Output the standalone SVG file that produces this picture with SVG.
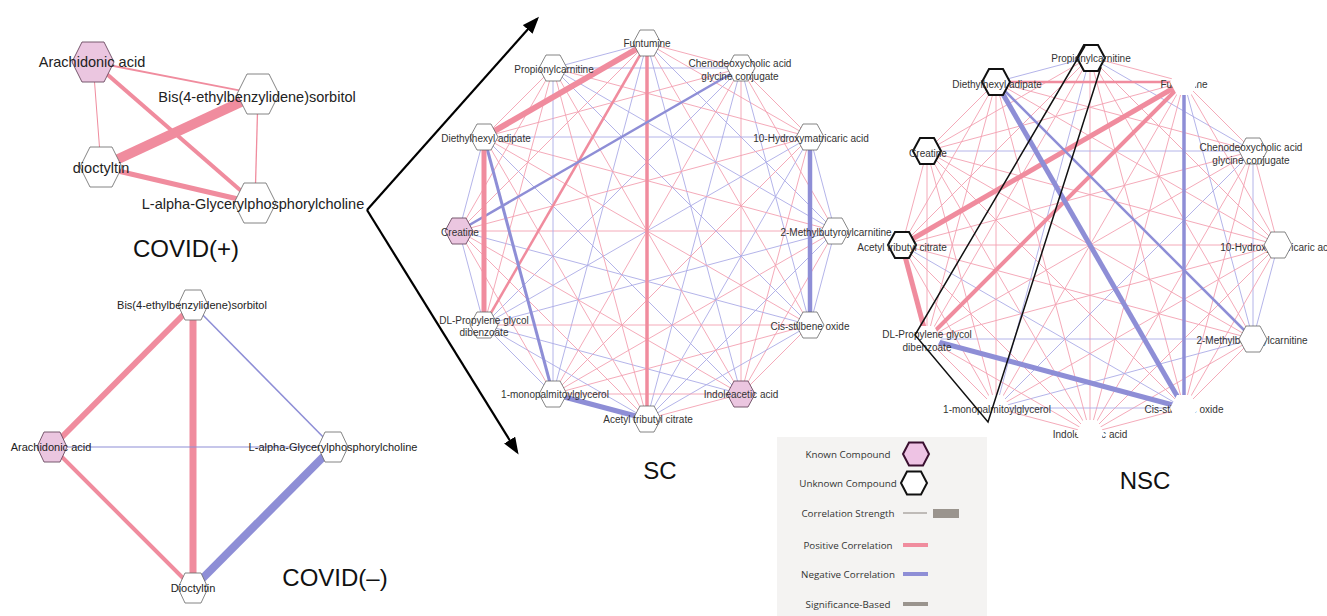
<svg xmlns="http://www.w3.org/2000/svg" xmlns:xlink="http://www.w3.org/1999/xlink" width="1327" height="616" viewBox="0 0 1327 616">
<style>
text{font-family:"Liberation Sans",Arial,sans-serif;text-anchor:middle;fill:#222}
.s{font-size:10px;fill:#333}
.c1{font-size:14.5px}
.c2{font-size:11px}
.ttl{font-size:24px;fill:#111}
.lg{font-family:"Open Sans","Liberation Sans",sans-serif;font-size:9.8px;fill:#333}
.tp{stroke:#F3A0B1;stroke-width:0.9}
.tb{stroke:#ABABE6;stroke-width:0.9}
.ep{stroke:#F08C9E;fill:none}
.eb{stroke:#8E8ED6;fill:none}
.n{fill:#fff;stroke:#666;stroke-width:0.8}
.k{fill:#EBC6E0;stroke:#6a4a60;stroke-width:0.9}
.nb{fill:#fff;stroke:#111;stroke-width:2}
.nw{fill:#fff;stroke:none}
.ar{stroke:#000;stroke-width:2.2;fill:none}
</style>
<defs>
<polygon id="hS" points="-14,0 -7,-13 7,-13 14,0 7,13 -7,13"/>
<polygon id="hL" points="-21,0 -11,-20 11,-20 21,0 11,20 -11,20"/>
<polygon id="hM" points="-15,0 -8,-15 8,-15 15,0 8,15 -8,15"/>
<polygon id="hG" points="-13,0 -7,-11.5 7,-11.5 13,0 7,11.5 -7,11.5"/>
<marker id="ah" markerWidth="18" markerHeight="14" refX="14" refY="6.5" orient="auto" markerUnits="userSpaceOnUse">
<path d="M0,0 L17,6.5 L0,13 Z" fill="#000"/>
</marker>
</defs>
<rect width="1327" height="616" fill="#fff"/>

<!-- COVID(+) -->
<g id="covidpos-edges">
<line x1="93" y1="62" x2="258" y2="94" class="ep" stroke-width="1.8"/>
<line x1="93" y1="62" x2="101" y2="167" class="ep" stroke-width="1"/>
<line x1="93" y1="62" x2="255" y2="203" class="ep" stroke-width="4"/>
<line x1="258" y1="94" x2="101" y2="167" class="ep" stroke-width="10"/>
<line x1="258" y1="94" x2="255" y2="203" class="ep" stroke-width="1.3"/>
<line x1="101" y1="167" x2="255" y2="203" class="ep" stroke-width="5"/>
</g>
<g id="cp-arachidonic"><use href="#hL" x="93" y="62" class="k"/><text class="c1" x="92" y="67">Arachidonic acid</text></g>
<g id="cp-bis"><use href="#hL" x="258" y="94" class="n"/><text class="c1" x="257" y="102">Bis(4-ethylbenzylidene)sorbitol</text></g>
<g id="cp-dioctyltin"><use href="#hL" x="101" y="167" class="n"/><text class="c1" x="101" y="173">dioctyltin</text></g>
<g id="cp-lalpha"><use href="#hL" x="255" y="203" class="n"/><text class="c1" x="253" y="209">L-alpha-Glycerylphosphorylcholine</text></g>
<text class="ttl" x="186" y="257">COVID(+)</text>

<!-- COVID(-) -->
<g id="covidneg-edges">
<line x1="193" y1="305" x2="52" y2="447" class="ep" stroke-width="6"/>
<line x1="193" y1="305" x2="193" y2="588" class="ep" stroke-width="7"/>
<line x1="193" y1="305" x2="333" y2="447" class="eb" stroke-width="1.5"/>
<line x1="52" y1="447" x2="333" y2="447" class="eb" stroke-width="1.2"/>
<line x1="52" y1="447" x2="193" y2="588" class="ep" stroke-width="4"/>
<line x1="333" y1="447" x2="193" y2="588" class="eb" stroke-width="8"/>
</g>
<g id="cn-bis"><use href="#hM" x="193" y="305" class="n"/><text class="c2" x="192" y="309">Bis(4-ethylbenzylidene)sorbitol</text></g>
<g id="cn-arachidonic"><use href="#hM" x="52" y="447" class="k"/><text class="c2" x="51" y="451">Arachidonic acid</text></g>
<g id="cn-lalpha"><use href="#hM" x="333" y="447" class="n"/><text class="c2" x="333" y="451">L-alpha-Glycerylphosphorylcholine</text></g>
<g id="cn-dioctyltin"><use href="#hM" x="193" y="588" class="n"/><text class="c2" x="193" y="592">Dioctyltin</text></g>
<text class="ttl" x="335" y="586">COVID(–)</text>

<!-- arrows -->
<g id="arrows">
<line x1="367" y1="210" x2="537" y2="19" class="ar" marker-end="url(#ah)"/>
<line x1="367" y1="210" x2="517" y2="452" class="ar" marker-end="url(#ah)"/>
</g>

<!-- SC network -->
<g id="sc-edges">
<line x1="647" y1="43" x2="741" y2="68" class="tp"/>
<line x1="647" y1="43" x2="810" y2="137" class="tp"/>
<line x1="647" y1="43" x2="835" y2="231" class="tb"/>
<line x1="647" y1="43" x2="810" y2="325" class="tp"/>
<line x1="647" y1="43" x2="741" y2="394" class="tb"/>
<line x1="647" y1="43" x2="553" y2="394" class="tb"/>
<line x1="647" y1="43" x2="459" y2="231" class="tp"/>
<line x1="647" y1="43" x2="553" y2="68" class="tb"/>
<line x1="741" y1="68" x2="810" y2="137" class="tp"/>
<line x1="741" y1="68" x2="835" y2="231" class="tp"/>
<line x1="741" y1="68" x2="810" y2="325" class="tb"/>
<line x1="741" y1="68" x2="741" y2="394" class="tp"/>
<line x1="741" y1="68" x2="647" y2="419" class="tb"/>
<line x1="741" y1="68" x2="553" y2="394" class="tp"/>
<line x1="741" y1="68" x2="484" y2="325" class="tb"/>
<line x1="741" y1="68" x2="484" y2="137" class="tp"/>
<line x1="741" y1="68" x2="553" y2="68" class="tb"/>
<line x1="810" y1="137" x2="835" y2="231" class="tb"/>
<line x1="810" y1="137" x2="741" y2="394" class="tp"/>
<line x1="810" y1="137" x2="647" y2="419" class="tb"/>
<line x1="810" y1="137" x2="553" y2="394" class="tp"/>
<line x1="810" y1="137" x2="484" y2="325" class="tb"/>
<line x1="810" y1="137" x2="459" y2="231" class="tp"/>
<line x1="810" y1="137" x2="484" y2="137" class="tb"/>
<line x1="810" y1="137" x2="553" y2="68" class="tp"/>
<line x1="835" y1="231" x2="810" y2="325" class="tb"/>
<line x1="835" y1="231" x2="741" y2="394" class="tp"/>
<line x1="835" y1="231" x2="647" y2="419" class="tb"/>
<line x1="835" y1="231" x2="553" y2="394" class="tp"/>
<line x1="835" y1="231" x2="484" y2="325" class="tb"/>
<line x1="835" y1="231" x2="459" y2="231" class="tp"/>
<line x1="835" y1="231" x2="484" y2="137" class="tp"/>
<line x1="835" y1="231" x2="553" y2="68" class="tb"/>
<line x1="810" y1="325" x2="741" y2="394" class="tp"/>
<line x1="810" y1="325" x2="647" y2="419" class="tb"/>
<line x1="810" y1="325" x2="553" y2="394" class="tp"/>
<line x1="810" y1="325" x2="484" y2="325" class="tp"/>
<line x1="810" y1="325" x2="459" y2="231" class="tb"/>
<line x1="810" y1="325" x2="484" y2="137" class="tp"/>
<line x1="810" y1="325" x2="553" y2="68" class="tb"/>
<line x1="741" y1="394" x2="647" y2="419" class="tp"/>
<line x1="741" y1="394" x2="553" y2="394" class="tp"/>
<line x1="741" y1="394" x2="484" y2="325" class="tb"/>
<line x1="741" y1="394" x2="459" y2="231" class="tp"/>
<line x1="741" y1="394" x2="484" y2="137" class="tb"/>
<line x1="741" y1="394" x2="553" y2="68" class="tp"/>
<line x1="647" y1="419" x2="484" y2="325" class="tb"/>
<line x1="647" y1="419" x2="459" y2="231" class="tp"/>
<line x1="647" y1="419" x2="484" y2="137" class="tp"/>
<line x1="647" y1="419" x2="553" y2="68" class="tp"/>
<line x1="553" y1="394" x2="484" y2="325" class="tb"/>
<line x1="553" y1="394" x2="459" y2="231" class="tp"/>
<line x1="553" y1="394" x2="553" y2="68" class="tb"/>
<line x1="484" y1="325" x2="459" y2="231" class="tb"/>
<line x1="484" y1="325" x2="553" y2="68" class="tp"/>
<line x1="459" y1="231" x2="484" y2="137" class="tb"/>
<line x1="459" y1="231" x2="553" y2="68" class="tp"/>
<line x1="484" y1="137" x2="553" y2="68" class="tp"/>
<line x1="647" y1="43" x2="647" y2="419" class="ep" stroke-width="3.5"/>
<line x1="647" y1="43" x2="484" y2="325" class="ep" stroke-width="2.5"/>
<line x1="647" y1="43" x2="484" y2="137" class="ep" stroke-width="6"/>
<line x1="741" y1="68" x2="459" y2="231" class="eb" stroke-width="2.5"/>
<line x1="810" y1="137" x2="810" y2="325" class="eb" stroke-width="4.5"/>
<line x1="647" y1="419" x2="553" y2="394" class="eb" stroke-width="5"/>
<line x1="553" y1="394" x2="484" y2="137" class="eb" stroke-width="3"/>
<line x1="484" y1="325" x2="484" y2="137" class="ep" stroke-width="5"/>
</g>
<g id="sc-funtumine"><use href="#hS" x="647" y="43" class="n"/><text class="s" x="647" y="46.5">Funtumine</text></g>
<g id="sc-propionylcarnitine"><use href="#hS" x="553" y="68" class="n"/><text class="s" x="554" y="72.5">Propionylcarnitine</text></g>
<g id="sc-chenodeoxycholic"><use href="#hS" x="741" y="68" class="n"/><text class="s" x="740" y="66.5">Chenodeoxycholic acid</text><text class="s" x="740" y="79.5">glycine conjugate</text></g>
<g id="sc-diethylhexyl"><use href="#hS" x="484" y="137" class="n"/><text class="s" x="486" y="141.5">Diethylhexyl adipate</text></g>
<g id="sc-hydroxymatricaric"><use href="#hS" x="810" y="137" class="n"/><text class="s" x="811" y="141.5">10-Hydroxymatricaric acid</text></g>
<g id="sc-creatine"><use href="#hS" x="459" y="231" class="k"/><text class="s" x="460" y="235.5">Creatine</text></g>
<g id="sc-methylbutyroyl"><use href="#hS" x="835" y="231" class="n"/><text class="s" x="836" y="235.5">2-Methylbutyroylcarnitine</text></g>
<g id="sc-dlpropylene"><use href="#hS" x="484" y="325" class="n"/><text class="s" x="484" y="323.5">DL-Propylene glycol</text><text class="s" x="484" y="335.5">dibenzoate</text></g>
<g id="sc-cisstilbene"><use href="#hS" x="810" y="325" class="n"/><text class="s" x="810" y="329.5">Cis-stilbene oxide</text></g>
<g id="sc-monopalmitoyl"><use href="#hS" x="553" y="394" class="n"/><text class="s" x="555" y="397.5">1-monopalmitoylglycerol</text></g>
<g id="sc-indoleacetic"><use href="#hS" x="741" y="394" class="k"/><text class="s" x="741" y="397.5">Indoleacetic acid</text></g>
<g id="sc-acetyl"><use href="#hS" x="647" y="419" class="n"/><text class="s" x="648" y="422.5">Acetyl tributyl citrate</text></g>
<text class="ttl" x="660" y="479">SC</text>

<!-- NSC network -->
<g id="nsc-edges">
<line x1="1090" y1="57" x2="1184" y2="82" class="tp"/>
<line x1="1090" y1="57" x2="1253" y2="151" class="tb"/>
<line x1="1090" y1="57" x2="1278" y2="245" class="tp"/>
<line x1="1090" y1="57" x2="1253" y2="339" class="tp"/>
<line x1="1090" y1="57" x2="1184" y2="408" class="tp"/>
<line x1="1090" y1="57" x2="1090" y2="433" class="tp"/>
<line x1="1090" y1="57" x2="996" y2="408" class="tb"/>
<line x1="1090" y1="57" x2="927" y2="339" class="tp"/>
<line x1="1090" y1="57" x2="902" y2="245" class="tp"/>
<line x1="1090" y1="57" x2="927" y2="151" class="tp"/>
<line x1="1090" y1="57" x2="996" y2="82" class="tb"/>
<line x1="1184" y1="82" x2="1253" y2="151" class="tp"/>
<line x1="1184" y1="82" x2="1278" y2="245" class="tp"/>
<line x1="1184" y1="82" x2="1253" y2="339" class="tb"/>
<line x1="1184" y1="82" x2="1090" y2="433" class="tp"/>
<line x1="1184" y1="82" x2="996" y2="408" class="tp"/>
<line x1="1184" y1="82" x2="927" y2="151" class="tp"/>
<line x1="1253" y1="151" x2="1278" y2="245" class="tp"/>
<line x1="1253" y1="151" x2="1253" y2="339" class="tb"/>
<line x1="1253" y1="151" x2="1184" y2="408" class="tp"/>
<line x1="1253" y1="151" x2="1090" y2="433" class="tp"/>
<line x1="1253" y1="151" x2="996" y2="408" class="tb"/>
<line x1="1253" y1="151" x2="927" y2="339" class="tp"/>
<line x1="1253" y1="151" x2="902" y2="245" class="tp"/>
<line x1="1253" y1="151" x2="927" y2="151" class="tb"/>
<line x1="1253" y1="151" x2="996" y2="82" class="tp"/>
<line x1="1278" y1="245" x2="1253" y2="339" class="tb"/>
<line x1="1278" y1="245" x2="1184" y2="408" class="tp"/>
<line x1="1278" y1="245" x2="1090" y2="433" class="tp"/>
<line x1="1278" y1="245" x2="996" y2="408" class="tp"/>
<line x1="1278" y1="245" x2="927" y2="339" class="tp"/>
<line x1="1278" y1="245" x2="902" y2="245" class="tp"/>
<line x1="1278" y1="245" x2="927" y2="151" class="tp"/>
<line x1="1278" y1="245" x2="996" y2="82" class="tp"/>
<line x1="1253" y1="339" x2="1184" y2="408" class="tp"/>
<line x1="1253" y1="339" x2="1090" y2="433" class="tp"/>
<line x1="1253" y1="339" x2="996" y2="408" class="tb"/>
<line x1="1253" y1="339" x2="927" y2="339" class="tb"/>
<line x1="1253" y1="339" x2="902" y2="245" class="tp"/>
<line x1="1253" y1="339" x2="927" y2="151" class="tp"/>
<line x1="1184" y1="408" x2="1090" y2="433" class="tp"/>
<line x1="1184" y1="408" x2="996" y2="408" class="tb"/>
<line x1="1184" y1="408" x2="902" y2="245" class="tb"/>
<line x1="1184" y1="408" x2="927" y2="151" class="tp"/>
<line x1="1090" y1="433" x2="996" y2="408" class="tp"/>
<line x1="1090" y1="433" x2="927" y2="339" class="tp"/>
<line x1="1090" y1="433" x2="902" y2="245" class="tp"/>
<line x1="1090" y1="433" x2="927" y2="151" class="tp"/>
<line x1="1090" y1="433" x2="996" y2="82" class="tp"/>
<line x1="996" y1="408" x2="927" y2="339" class="tp"/>
<line x1="996" y1="408" x2="902" y2="245" class="tp"/>
<line x1="996" y1="408" x2="927" y2="151" class="tp"/>
<line x1="996" y1="408" x2="996" y2="82" class="tp"/>
<line x1="927" y1="339" x2="927" y2="151" class="tp"/>
<line x1="927" y1="339" x2="996" y2="82" class="tp"/>
<line x1="902" y1="245" x2="927" y2="151" class="tp"/>
<line x1="902" y1="245" x2="996" y2="82" class="tp"/>
<line x1="927" y1="151" x2="996" y2="82" class="tp"/>
<line x1="1184" y1="82" x2="1184" y2="408" class="eb" stroke-width="3.5"/>
<line x1="1184" y1="82" x2="927" y2="339" class="ep" stroke-width="4"/>
<line x1="1184" y1="82" x2="902" y2="245" class="ep" stroke-width="5"/>
<line x1="1184" y1="82" x2="996" y2="82" class="ep" stroke-width="2.5"/>
<line x1="1253" y1="339" x2="996" y2="82" class="eb" stroke-width="2.5"/>
<line x1="1184" y1="408" x2="927" y2="339" class="eb" stroke-width="5"/>
<line x1="1184" y1="408" x2="996" y2="82" class="eb" stroke-width="5"/>
<line x1="927" y1="339" x2="902" y2="245" class="ep" stroke-width="5"/>
</g>
<g id="nsc-propionylcarnitine"><use href="#hS" x="1091" y="58" class="nb"/><text class="s" x="1091" y="62">Propionylcarnitine</text></g>
<g id="nsc-diethylhexyl"><use href="#hS" x="996" y="82" class="nb"/><text class="s" x="997" y="87.5">Diethylhexyl adipate</text></g>
<g id="nsc-funtumine"><text class="s" x="1184" y="87.5">Funtumine</text><use href="#hS" x="1184" y="82" class="nw"/></g>
<g id="nsc-creatine"><use href="#hS" x="927" y="151" class="nb"/><text class="s" x="928" y="156.5">Creatine</text></g>
<g id="nsc-chenodeoxycholic"><use href="#hS" x="1253" y="151" class="n"/><text class="s" x="1251" y="150.5">Chenodeoxycholic acid</text><text class="s" x="1251" y="163.5">glycine conjugate</text></g>
<g id="nsc-acetyl"><use href="#hS" x="902" y="245" class="nb"/><text class="s" x="902" y="250.5">Acetyl tributyl citrate</text></g>
<g id="nsc-hydroxymatricaric"><text class="s" x="1278" y="250.5">10-Hydroxymatricaric acid</text><use href="#hS" x="1278" y="245" class="n"/></g>
<g id="nsc-dlpropylene"><use href="#hS" x="927" y="339" class="nw"/><text class="s" x="927" y="337.5">DL-Propylene glycol</text><text class="s" x="927" y="350.5">dibenzoate</text></g>
<g id="nsc-methylbutyroyl"><text class="s" x="1252" y="343.5">2-Methylbutyroylcarnitine</text><use href="#hS" x="1253" y="339" class="n"/></g>
<g id="nsc-monopalmitoyl"><use href="#hS" x="996" y="408" class="nw"/><text class="s" x="997" y="412.5">1-monopalmitoylglycerol</text></g>
<g id="nsc-cisstilbene"><text class="s" x="1184" y="412.5">Cis-stilbene oxide</text><use href="#hS" x="1184" y="408" class="nw"/></g>
<g id="nsc-indoleacetic"><text class="s" x="1090" y="437.5">Indoleacetic acid</text><use href="#hS" x="1090" y="433" class="nw"/></g>
<g id="nsc-highlight">
<polyline points="1085,46 915,335 988,422 1101,67" fill="none" stroke="#111" stroke-width="1.5" stroke-linejoin="miter"/>
</g>
<text class="ttl" x="1145" y="489">NSC</text>

<!-- Legend -->
<g id="legend">
<rect x="777" y="437" width="210" height="179" fill="#F4F3F2"/>
<text class="lg" x="848" y="458">Known Compound</text>
<use href="#hG" x="916" y="454" fill="#EEC3E4" stroke="#3a1030" stroke-width="2"/>
<text class="lg" x="848" y="487">Unknown Compound</text>
<use href="#hG" x="914" y="483" fill="#fff" stroke="#111" stroke-width="2"/>
<text class="lg" x="848" y="517">Correlation Strength</text>
<line x1="903" y1="513" x2="927" y2="513" stroke="#9a9590" stroke-width="1.2"/>
<rect x="933" y="509" width="26" height="9" fill="#9a948e"/>
<text class="lg" x="848" y="549">Positive Correlation</text>
<rect x="903" y="543" width="25" height="4" fill="#F08C9E"/>
<text class="lg" x="848" y="578">Negative Correlation</text>
<rect x="903" y="572" width="25" height="4" fill="#8E8ED6"/>
<text class="lg" x="848" y="608">Significance-Based</text>
<rect x="903" y="602" width="25" height="4" fill="#9a948e"/>
</g>
</svg>
